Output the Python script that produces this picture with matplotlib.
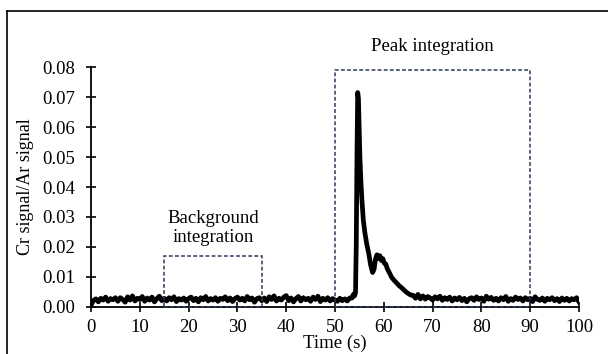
import numpy as np
import matplotlib
matplotlib.use("Agg")
import matplotlib.pyplot as plt
from matplotlib.patches import Rectangle
from matplotlib.lines import Line2D

plt.rcParams['font.family'] = ['Liberation Serif', 'DejaVu Serif']

# baseline before the peak, 0 .. 53 s every 0.5 s
t_pre = np.arange(0, 53.5, 0.5)
y_pre = [
    0.0006, 0.0022, 0.0027, 0.0017, 0.0029, 0.0023, 0.0033, 0.0019, 0.0028, 0.0024,
    0.0031, 0.0019, 0.0031, 0.0025, 0.0016, 0.0034, 0.0023, 0.0037, 0.0020, 0.0029,
    0.0025, 0.0035, 0.0019, 0.0030, 0.0023, 0.0033, 0.0017, 0.0028, 0.0036, 0.0021,
    0.0029, 0.0020, 0.0031, 0.0024, 0.0034, 0.0018, 0.0028, 0.0023, 0.0030, 0.0019,
    0.0028, 0.0033, 0.0021, 0.0029, 0.0017, 0.0031, 0.0024, 0.0035, 0.0020, 0.0028,
    0.0023, 0.0031, 0.0019, 0.0029, 0.0025, 0.0034, 0.0021, 0.0030, 0.0018, 0.0028,
    0.0033, 0.0023, 0.0029, 0.0020, 0.0035, 0.0024, 0.0030, 0.0016, 0.0028, 0.0031,
    0.0021, 0.0030, 0.0018, 0.0034, 0.0025, 0.0037, 0.0020, 0.0029, 0.0023, 0.0033,
    0.0038, 0.0021, 0.0030, 0.0017, 0.0028, 0.0035, 0.0020, 0.0031, 0.0024, 0.0029,
    0.0019, 0.0033, 0.0025, 0.0036, 0.0018, 0.0029, 0.0023, 0.0031, 0.0020, 0.0028,
    0.0023, 0.0019, 0.0029, 0.0021, 0.0027, 0.0020, 0.0030,
]

# peak region
t_peak = [53.5, 53.8, 54.0, 54.2, 54.35, 54.5, 54.65, 54.8, 54.95, 55.1,
          55.3, 55.5, 55.8, 56.1, 56.5, 56.9, 57.3, 57.7, 58.0, 58.3,
          58.6, 58.9, 59.2, 59.5, 59.8, 60.1, 60.4, 60.7, 61.0, 61.3,
          61.6, 62.0, 62.4, 62.8, 63.2, 63.6, 64.0, 64.5, 65.0, 65.5]
y_peak = [0.0030, 0.0043, 0.0037, 0.0047, 0.0200, 0.0500, 0.0715, 0.0695, 0.0600, 0.0500,
          0.0420, 0.0360, 0.0290, 0.0250, 0.0210, 0.0180, 0.0140, 0.0115, 0.0125, 0.0160,
          0.0174, 0.0162, 0.0171, 0.0155, 0.0161, 0.0146, 0.0143, 0.0128, 0.0119, 0.0109,
          0.0099, 0.0091, 0.0084, 0.0077, 0.0070, 0.0065, 0.0059, 0.0051, 0.0045, 0.0040]

# baseline after the peak, 66 .. 100 s every 0.5 s
t_post = np.arange(66, 100.5, 0.5)
y_post = [
    0.0039, 0.0029, 0.0042, 0.0027, 0.0037, 0.0026, 0.0035, 0.0030, 0.0023, 0.0034,
    0.0027, 0.0036, 0.0022, 0.0031, 0.0025, 0.0033, 0.0020, 0.0030, 0.0024, 0.0032,
    0.0021, 0.0029, 0.0017, 0.0028, 0.0031, 0.0022, 0.0034, 0.0025, 0.0030, 0.0019,
    0.0036, 0.0026, 0.0032, 0.0022, 0.0029, 0.0020, 0.0031, 0.0024, 0.0035, 0.0019,
    0.0028, 0.0022, 0.0033, 0.0025, 0.0030, 0.0020, 0.0031, 0.0024, 0.0029, 0.0018,
    0.0034, 0.0025, 0.0022, 0.0030, 0.0019, 0.0029, 0.0024, 0.0031, 0.0021, 0.0028,
    0.0018, 0.0030, 0.0022, 0.0029, 0.0020, 0.0028, 0.0024, 0.0031, 0.0017,
]

time = np.concatenate([t_pre, t_peak, t_post])
signal = np.concatenate([y_pre, y_peak, y_post])

# integration windows (x0, x1, top)
bg_window = (15, 35, 0.017)
peak_window = (50, 90, 0.079)
box_color = '#2c3a5a'

fig = plt.figure(figsize=(6.08, 3.54), dpi=100)
ax = fig.add_axes([0.1497, 0.1328, 0.8026, 0.6779])

ax.plot(time, signal, color='black', lw=3.4, solid_joinstyle='round')

for x0, x1, top in (bg_window, peak_window):
    ax.add_patch(Rectangle((x0, 0), x1 - x0, top, fill=False, edgecolor=box_color,
                           lw=1.1, linestyle=(0, (2.5, 1.5)), clip_on=False, zorder=3))

ax.text(25, 0.0262, 'Background\nintegration', ha='center', va='center',
        fontsize=13.5, linespacing=1.15)
ax.text(70, 0.0868, 'Peak integration', ha='center', va='center', fontsize=13.5,
        clip_on=False)

ax.set_xlim(0, 100)
ax.set_ylim(0, 0.08)
ax.set_xticks(np.arange(0, 101, 10))
ax.set_yticks(np.arange(0, 0.081, 0.01))
ax.set_yticklabels(['%.2f' % v for v in np.arange(0, 0.081, 0.01)])
ax.tick_params(direction='inout', length=7, width=1.2, labelsize=13.5)
ax.tick_params(axis='y', pad=8)
ax.tick_params(axis='x', pad=5)
for s in ('top', 'right'):
    ax.spines[s].set_visible(False)
for s in ('left', 'bottom'):
    ax.spines[s].set_linewidth(1.3)

ax.set_xlabel('Time (s)', fontsize=13.5, labelpad=-0.5)
ax.set_ylabel('Cr signal/Ar signal', fontsize=13, labelpad=6)

# frame edges of the cropped figure
fig.add_artist(Line2D([7 / 608, 1], [1 - 11 / 354, 1 - 11 / 354], color='black', lw=1.2))
fig.add_artist(Line2D([7 / 608, 7 / 608], [0, 1 - 11 / 354], color='black', lw=1.2))

fig.savefig('out.png', dpi=100)
